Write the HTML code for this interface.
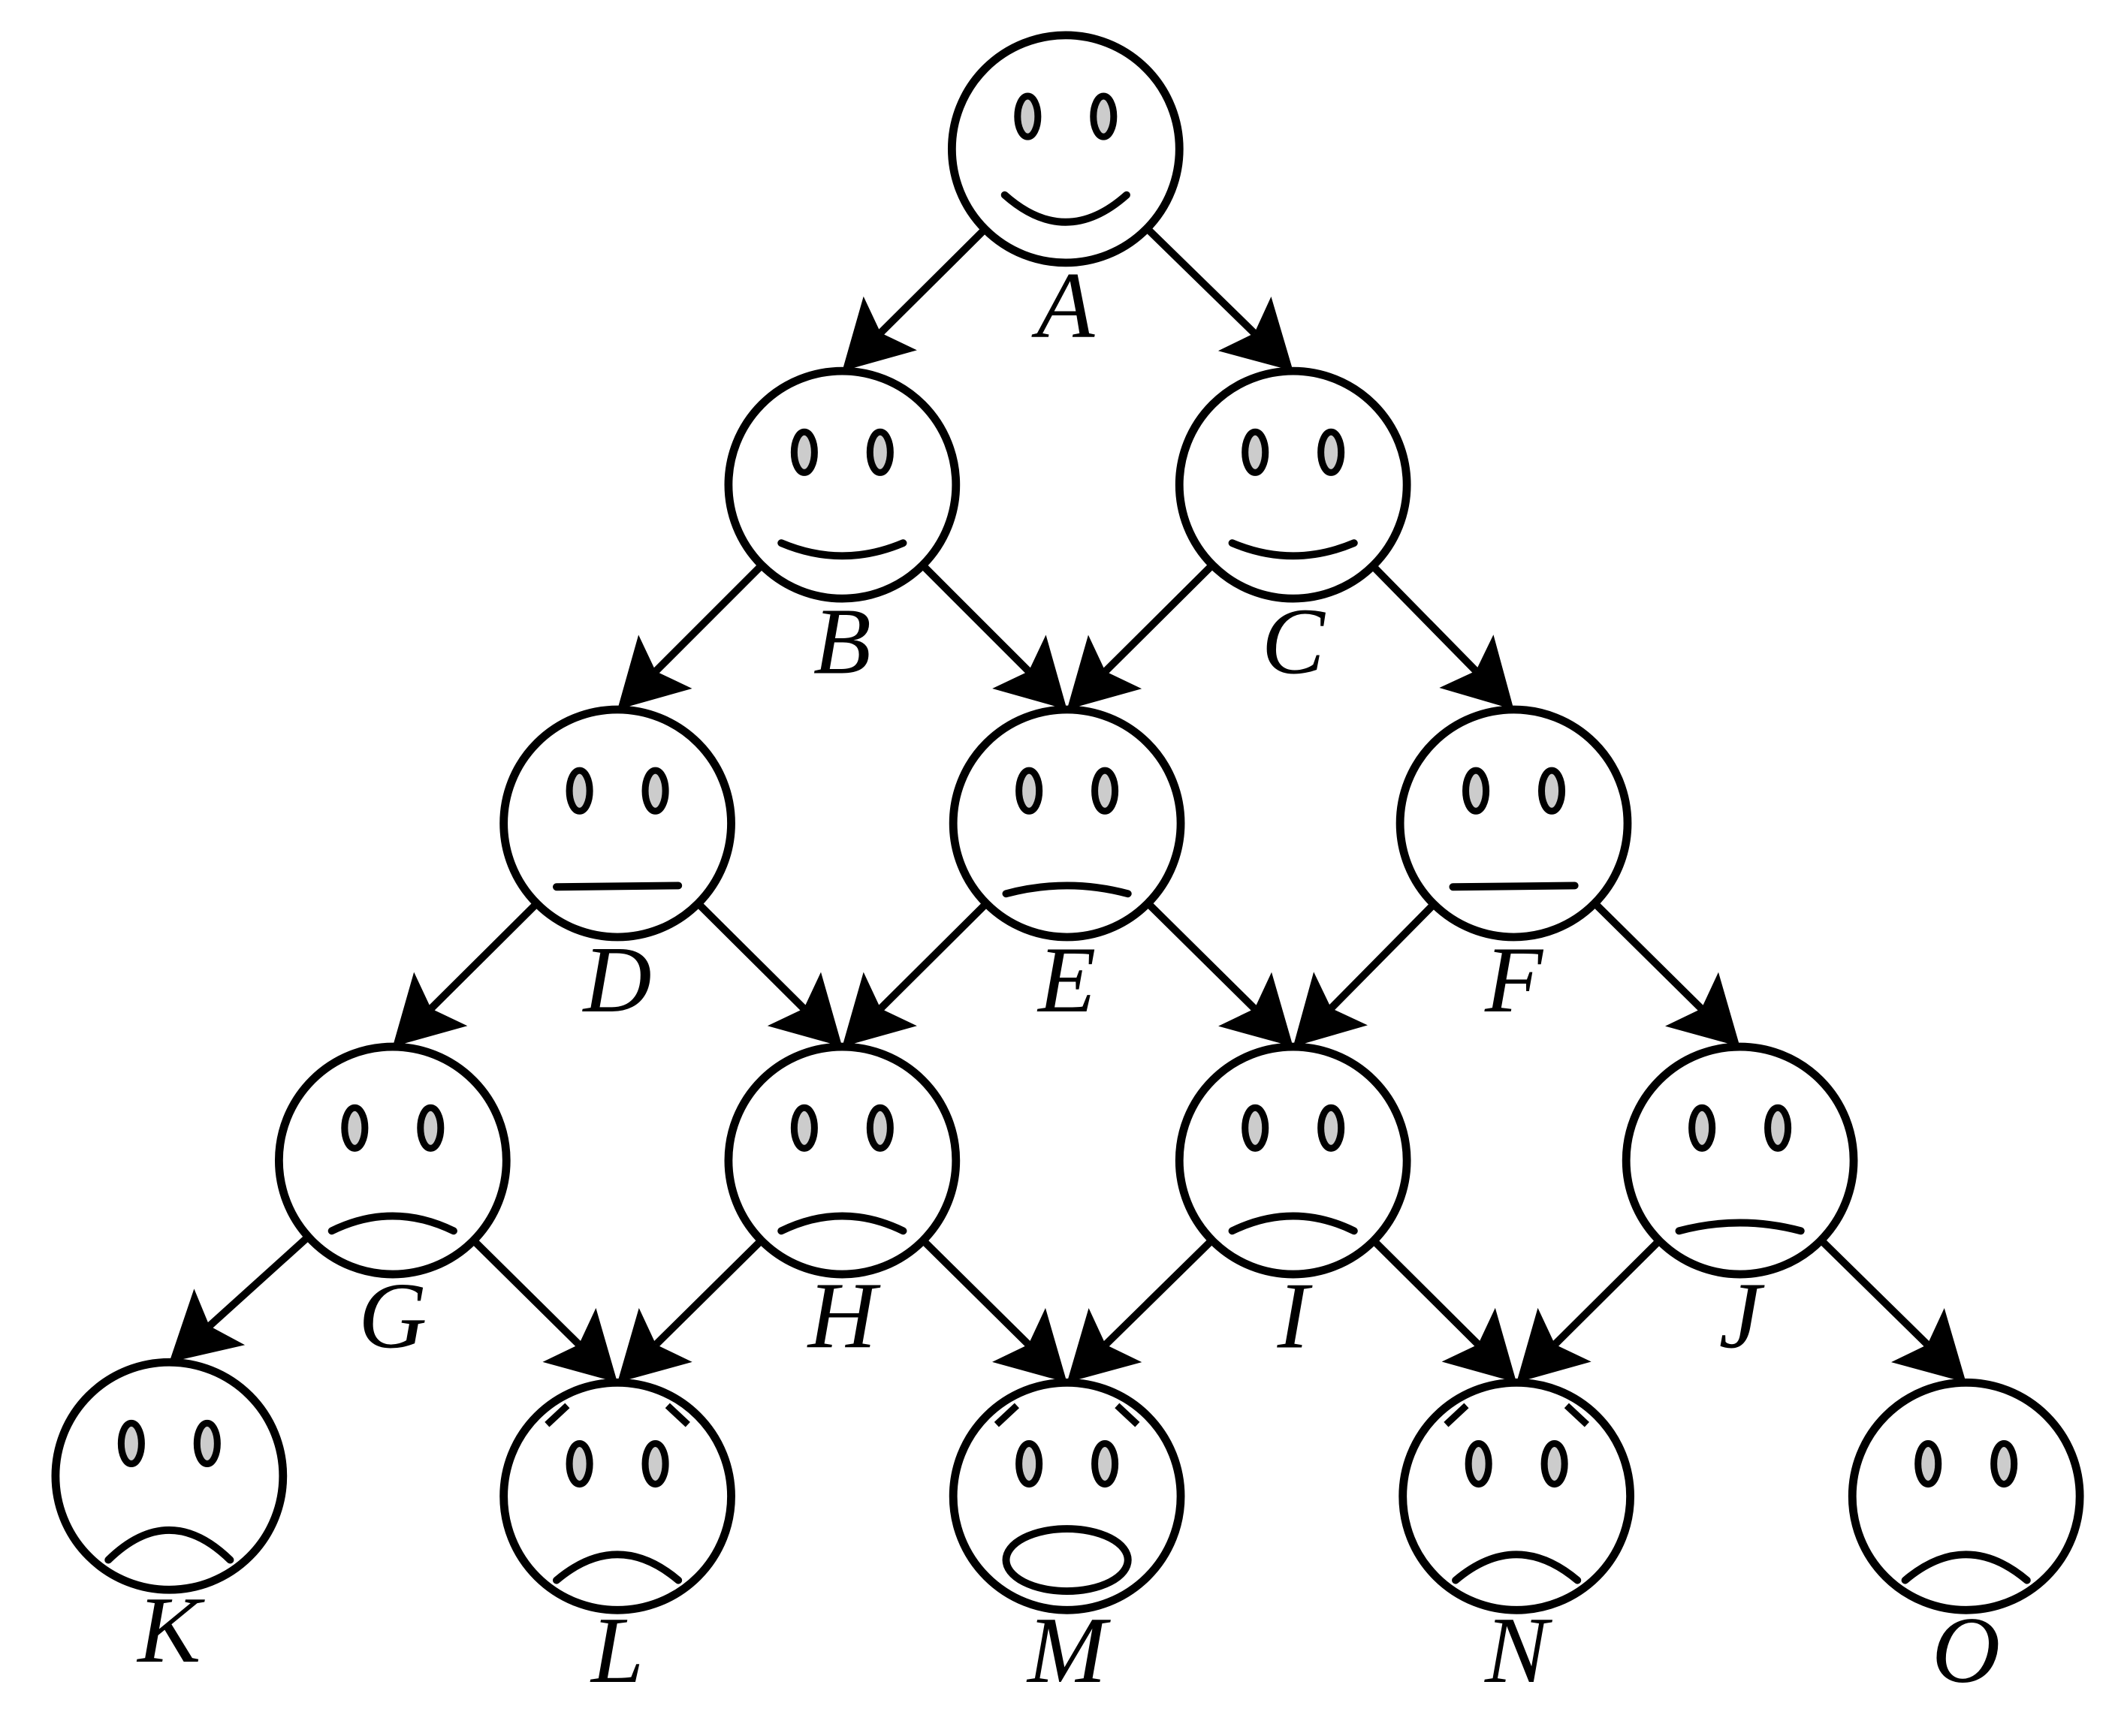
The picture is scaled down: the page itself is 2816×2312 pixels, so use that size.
<!DOCTYPE html>
<html><head><meta charset="utf-8"><style>
html,body{margin:0;padding:0;background:#fff;}
svg{display:block;}
text{font-family:"Liberation Serif","Times New Roman",serif;font-style:italic;font-size:70px;fill:#000;text-anchor:middle;}
</style></head><body>
<svg id="s" width="2816" height="2312" viewBox="0 0 1562 1282" preserveAspectRatio="none" xmlns="http://www.w3.org/2000/svg">
<rect width="1562" height="1282" fill="#fff"/>
<g id="g"></g>
<text x="787" y="249">A</text>
<text x="622" y="497">B</text>
<text x="955" y="497">C</text>
<text x="456" y="747">D</text>
<text x="788" y="747">E</text>
<text x="1118" y="747">F</text>
<text x="290" y="995">G</text>
<text x="622" y="995">H</text>
<text x="955" y="995">I</text>
<text x="1285" y="995">J</text>
<text x="125" y="1227">K</text>
<text x="456" y="1242">L</text>
<text x="788" y="1242">M</text>
<text x="1120" y="1242">N</text>
<text x="1452" y="1242">O</text>
</svg>
<script>
var R=84;
var N={A:[787,110,'smile'],B:[622,358,'smile2'],C:[955,358,'smile2'],D:[456,608,'flat'],E:[788,608,'frown1'],F:[1118,608,'flat'],
G:[290,857,'frown2'],H:[622,857,'frown2'],I:[955,857,'frown2'],J:[1285,857,'frown1'],
K:[125,1090,'frownK'],L:[456,1105,'frown3b'],M:[788,1105,'open'],N:[1120,1105,'frown3b'],O:[1452,1105,'frown3']};
var E=['AB','AC','BD','BE','CE','CF','DG','DH','EH','EI','FI','FJ','GK','GL','HL','HM','IM','IN','JN','JO'];
var h='';
E.forEach(function(e){
 var p=N[e[0]],c=N[e[1]];
 var tx=c[0],ty=c[1]-R;
 var vx=tx-p[0],vy=ty-p[1],L=Math.hypot(vx,vy),ux=vx/L,uy=vy/L;
 var sx=p[0]+ux*R,sy=p[1]+uy*R;
 var len=50,hw=28,notch=10;
 var bx=tx-ux*len,by=ty-uy*len;
 var nx=-uy,ny=ux;
 var mx=tx-ux*(len-notch),my=ty-uy*(len-notch);
 h+='<line x1="'+sx+'" y1="'+sy+'" x2="'+mx+'" y2="'+my+'" stroke="#000" stroke-width="5.5"/>';
 h+='<path d="M'+tx+' '+ty+' L'+(bx+nx*hw)+' '+(by+ny*hw)+' L'+mx+' '+my+' L'+(bx-nx*hw)+' '+(by-ny*hw)+' Z" fill="#000"/>';
});
for(var k in N){
 var x=N[k][0],y=N[k][1],t=N[k][2];
 h+='<circle cx="'+x+'" cy="'+y+'" r="'+R+'" fill="#fff" stroke="#000" stroke-width="6"/>';
 h+='<ellipse cx="'+(x-28)+'" cy="'+(y-24)+'" rx="7.5" ry="15" fill="#ccc" stroke="#000" stroke-width="5"/>';
 h+='<ellipse cx="'+(x+28)+'" cy="'+(y-24)+'" rx="7.5" ry="15" fill="#ccc" stroke="#000" stroke-width="5"/>';
 var m='';
 function q(y1,yc){return 'M'+(x-45)+' '+(y+y1)+' Q'+x+' '+(y+yc)+' '+(x+45)+' '+(y+y1);}
 if(t=='smile')m=q(34,74);
 else if(t=='smile2')m=q(43,62);
 else if(t=='flat')m='M'+(x-45)+' '+(y+47)+' L'+(x+45)+' '+(y+46);
 else if(t=='frown1')m=q(52,40);
 else if(t=='frown2')m=q(52,30);
 else if(t=='frownK')m=q(62,18);
 else if(t=='frown3'||t=='frown3b')m=q(62,24);
 if(m)h+='<path d="'+m+'" fill="none" stroke="#000" stroke-width="5.5" stroke-linecap="round"/>';
 if(t=='open')h+='<ellipse cx="'+x+'" cy="'+(y+47)+'" rx="45" ry="23" fill="#fff" stroke="#000" stroke-width="5.5"/>';
 if(t=='open'||t=='frown3b'){
  h+='<line x1="'+(x-52)+'" y1="'+(y-53)+'" x2="'+(x-37)+'" y2="'+(y-67)+'" stroke="#000" stroke-width="5"/>';
  h+='<line x1="'+(x+52)+'" y1="'+(y-53)+'" x2="'+(x+37)+'" y2="'+(y-67)+'" stroke="#000" stroke-width="5"/>';
 }
}
document.getElementById('g').innerHTML=h;
</script>
</body></html>
